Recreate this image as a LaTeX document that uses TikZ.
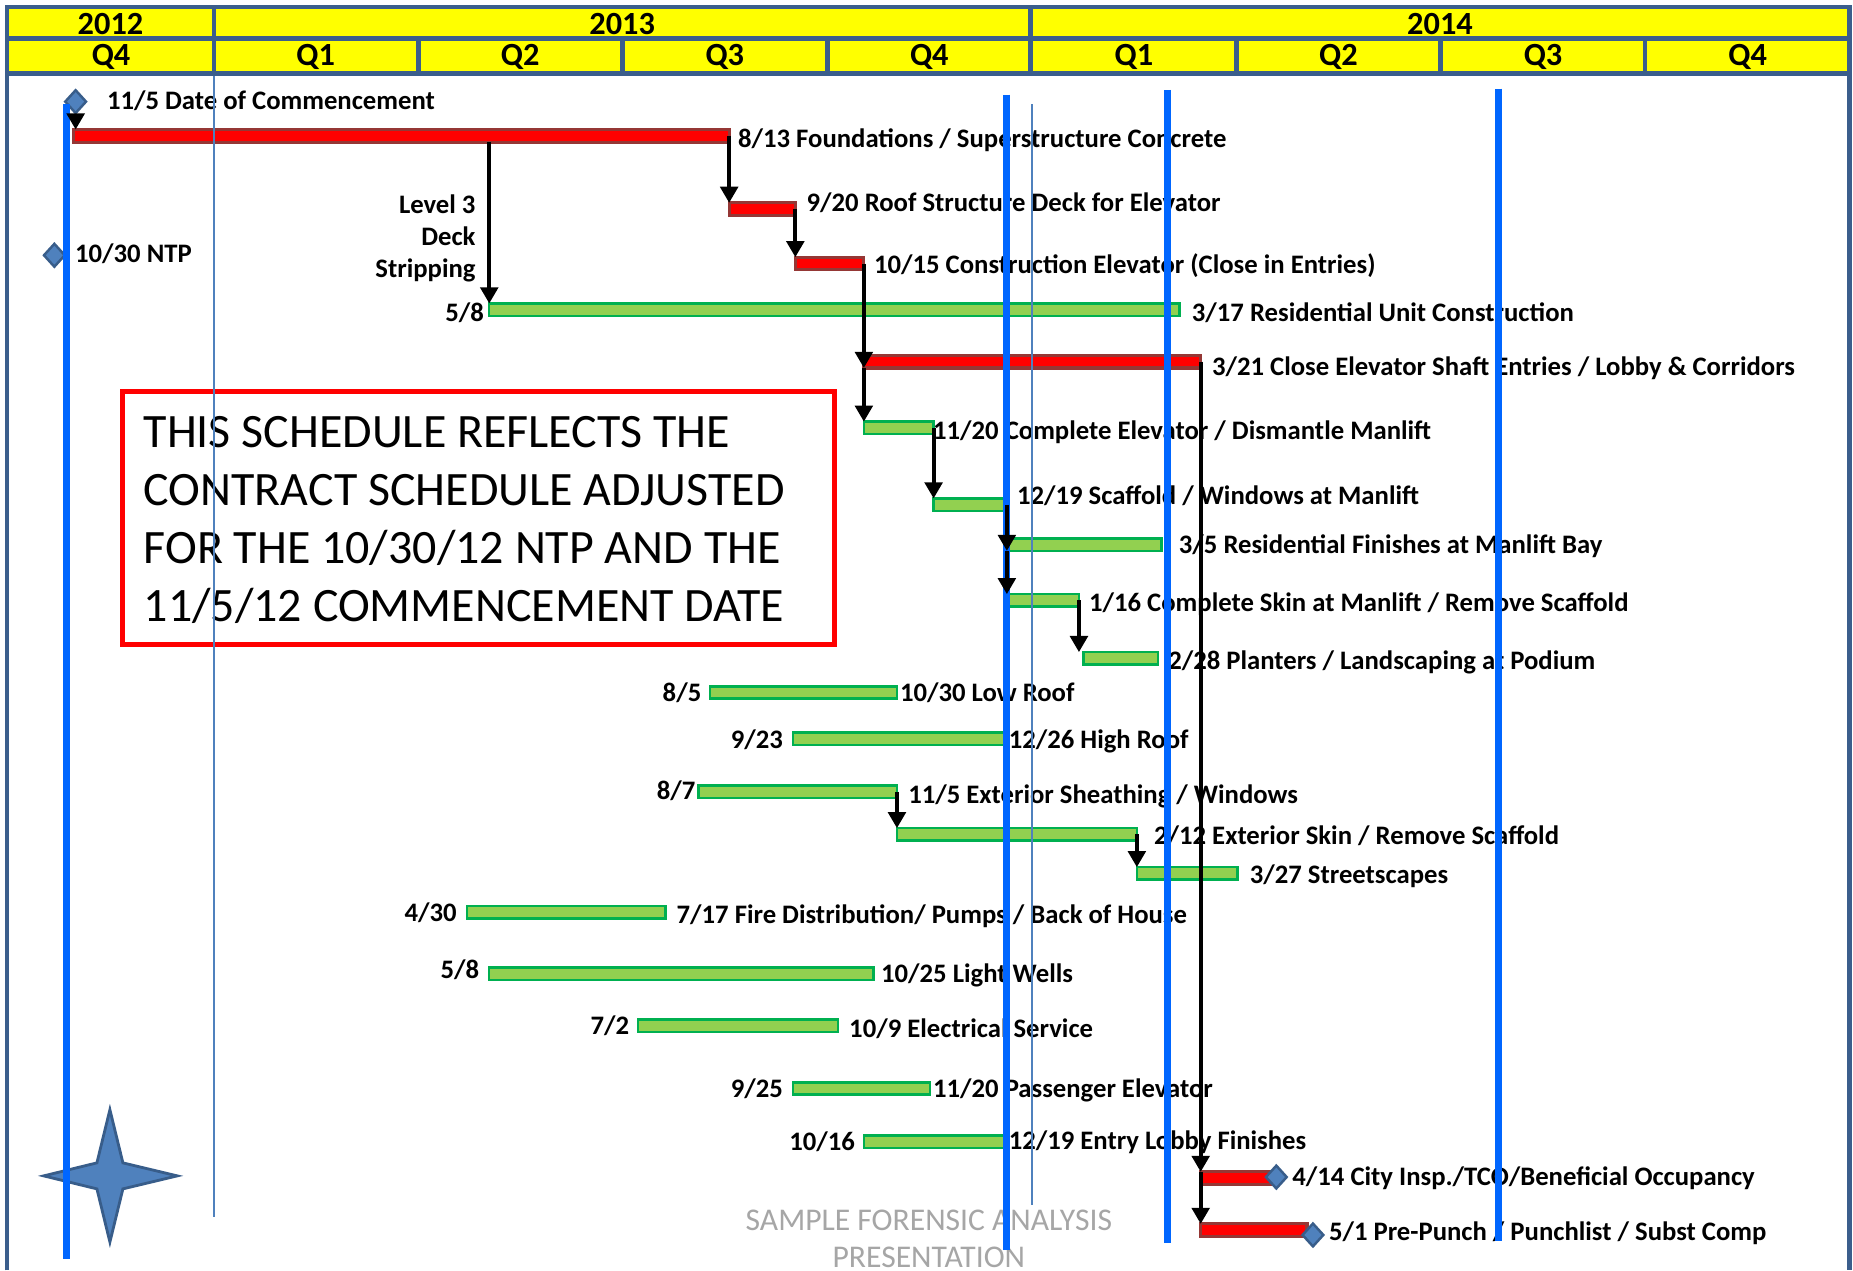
\documentclass[tikz,border=0pt]{standalone}
\usepackage{xcolor}
\usepackage{fontspec}
\setmainfont{Carlito}
\usetikzlibrary{arrows.meta,shapes.geometric}

\definecolor{hdrline}{HTML}{3B5E8C}
\definecolor{hdrfill}{HTML}{FFFF00}
\definecolor{qtrblue}{HTML}{0066FF}
\definecolor{thinblue}{HTML}{4F81BD}
\definecolor{barred}{HTML}{FF0000}
\definecolor{barredline}{HTML}{953735}
\definecolor{bargreen}{HTML}{92D050}
\definecolor{bargreenline}{HTML}{00B050}
\definecolor{mstone}{HTML}{4F81BD}
\definecolor{mstoneline}{HTML}{385D8A}
\definecolor{wmgray}{HTML}{A6A6A6}

% bar: style, name, x start, x end, y
\newcommand{\ganttbar}[5]{\node[#1, minimum width={(#4-#3)*0.01182cm}] (#2) at (#3,#5) {};}

\tikzset{
  hdr/.style={draw=hdrline, line width=1.35pt},
  hdrtxt/.style={font=\bfseries\fontsize{9.2}{10}\selectfont, inner sep=0pt},
  txt/.style={font=\bfseries\fontsize{7.6}{9.1}\selectfont, inner sep=0pt},
  lbl/.style={txt, anchor=west, text height=4.9pt, text depth=0pt},
  datel/.style={txt, anchor=east, text height=4.9pt, text depth=0pt},
  bar/.style={rectangle, anchor=west, inner sep=0pt, outer sep=0pt},
  redbar/.style={bar, fill=barred, draw=barredline, line width=0.9pt, minimum height=3.6pt},
  greenbar/.style={bar, fill=bargreen, draw=bargreenline, line width=0.7pt, minimum height=3.5pt},
  mstone/.style={diamond, fill=mstone, draw=mstoneline, line width=0.7pt,
    minimum width=6.2pt, minimum height=6.8pt, inner sep=0pt},
  dep/.style={draw=black, line width=1.1pt, -{Triangle[length=4.6pt,width=5pt]}},
  qtr/.style={draw=qtrblue, line width=2pt},
  thinq/.style={draw=thinblue, line width=0.5pt}
}

\begin{document}
\begin{tikzpicture}[x=0.01182cm, y=-0.01182cm]
    \useasboundingbox (0,0) rectangle (1568,1075);
    \fill[white] (0,0) rectangle (1568,1075);

    % Draw the header
    \fill[hdrfill] (6,6) rectangle (1565,62);
    \draw[hdr] (6,1075) -- (6,6) -- (1565,6) -- (1565,1075);
    \draw[hdr] (6,32.5) -- (1565,32.5);
    \draw[hdr] (6,62) -- (1565,62);
    \draw[hdr] (181,6) -- (181,62);
    \draw[hdr] (872,6) -- (872,62);
    \foreach \x in {354,527,700,1046,1219,1392}
        \draw[hdr] (\x,32.5) -- (\x,62);
    \node[hdrtxt] (y2012) at (93.5,20.5) {2012};
    \node[hdrtxt] (y2013) at (526.5,20.5) {2013};
    \node[hdrtxt] (y2014) at (1218.5,20.5) {2014};
    \foreach \q [count=\i from 0] in {Q4,Q1,Q2,Q3,Q4,Q1,Q2,Q3,Q4}
        \node[hdrtxt] (q\i) at ({94+173.1*\i},48.5) {\q};

    % Critical path bars
    \ganttbar{redbar}{found}{62}{617}{115}
    \ganttbar{redbar}{roof}{617}{673}{177}
    \ganttbar{redbar}{constr}{673}{731}{223}
    \ganttbar{redbar}{close}{731}{1016}{306}
    \ganttbar{redbar}{city}{1016}{1076}{997}
    \ganttbar{redbar}{pre}{1016}{1106}{1041}

    % Other activity bars
    \ganttbar{greenbar}{res}{414}{998}{262}
    \ganttbar{greenbar}{compelev}{731}{790}{362}
    \ganttbar{greenbar}{scaf}{790}{852}{427}
    \ganttbar{greenbar}{resfin}{852}{983}{461}
    \ganttbar{greenbar}{skin}{852}{913}{508}
    \ganttbar{greenbar}{plant}{917}{980}{557}
    \ganttbar{greenbar}{lowroof}{601}{759}{586}
    \ganttbar{greenbar}{highroof}{671}{852}{625}
    \ganttbar{greenbar}{sheath}{591}{759}{670}
    \ganttbar{greenbar}{extskin}{759}{962}{706}
    \ganttbar{greenbar}{street}{962}{1047}{739}
    \ganttbar{greenbar}{fire}{395}{563}{772}
    \ganttbar{greenbar}{wells}{414}{739}{824}
    \ganttbar{greenbar}{elec}{540}{709}{868}
    \ganttbar{greenbar}{paselev}{671}{787}{921}
    \ganttbar{greenbar}{lobby}{731}{852}{966}

    % Milestones
    \node[mstone] (comm) at (64,86) {};
    \node[mstone] (ntp) at (46,216) {};
    \node[mstone] (cityms) at (1080,996) {};
    \node[mstone] (prems) at (1111,1045) {};

    % Labels
    \node[lbl] (commlbl) at (90,85.5) {11/5 Date of Commencement};
    \node[lbl] (ntplbl) at (63,214.5) {10/30 NTP};
    \node[lbl] (foundlbl) at (624,117.5) {8/13 Foundations / Superstructure Concrete};
    \node[txt, anchor=east, align=right] (deck) at (403,202) {Level 3\\Deck\\Stripping};
    \node[lbl] (rooflbl) at (682,171.5) {9/20 Roof Structure Deck for Elevator};
    \node[lbl] (constrlbl) at (739,224.5) {10/15 Construction Elevator (Close in Entries)};
    \node[datel] (resd) at (410,264.5) {5/8};
    \node[lbl] (reslbl) at (1008,264.5) {3/17 Residential Unit Construction};
    \node[lbl] (closelbl) at (1025,310.5) {3/21 Close Elevator Shaft Entries / Lobby \& Corridors};
    \node[lbl] (compelevlbl) at (789,364.5) {11/20 Complete Elevator / Dismantle Manlift};
    \node[lbl] (scaflbl) at (860,419.5) {12/19 Scaffold / Windows at Manlift};
    \node[lbl] (resfinlbl) at (997,461.5) {3/5 Residential Finishes at Manlift Bay};
    \node[lbl] (skinlbl) at (921,510.5) {1/16 Complete Skin at Manlift / Remove Scaffold};
    \node[lbl] (plantlbl) at (988,559.5) {2/28 Planters / Landscaping at Podium};
    \node[datel] (lowroofd) at (594,586.5) {8/5};
    \node[lbl] (lowrooflbl) at (761,586.5) {10/30 Low Roof};
    \node[datel] (highroofd) at (663,626.5) {9/23};
    \node[lbl] (highrooflbl) at (853,626.5) {12/26 High Roof};
    \node[datel] (sheathd) at (589,669.5) {8/7};
    \node[lbl] (sheathlbl) at (768,672.5) {11/5 Exterior Sheathing / Windows};
    \node[lbl] (extskinlbl) at (976,707.5) {2/12 Exterior Skin / Remove Scaffold};
    \node[lbl] (streetlbl) at (1057,740.5) {3/27 Streetscapes};
    \node[datel] (fired) at (387,772.5) {4/30};
    \node[lbl] (firelbl) at (572,774.5) {7/17 Fire Distribution/ Pumps / Back of House};
    \node[datel] (wellsd) at (406,820.5) {5/8};
    \node[lbl] (wellslbl) at (745,824.5) {10/25 Light Wells};
    \node[datel] (elecd) at (533,868.5) {7/2};
    \node[lbl] (eleclbl) at (718,870.5) {10/9 Electrical Service};
    \node[datel] (paselevd) at (663,921.5) {9/25};
    \node[lbl] (paselevlbl) at (789,921.5) {11/20 Passenger Elevator};
    \node[datel] (lobbyd) at (724,966.5) {10/16};
    \node[lbl] (lobbylbl) at (853,965.5) {12/19 Entry Lobby Finishes};
    \node[lbl] (citylbl) at (1093,995.5) {4/14 City Insp./TCO/Beneficial Occupancy};
    \node[lbl] (prelbl) at (1124,1042.5) {5/1 Pre-Punch / Punchlist / Subst Comp};

    % Note box and watermark
    \draw[barred, line width=1.4pt] (104,331) rectangle (706,545);
    \node[font=\fontsize{13.65}{16.5}\selectfont, inner sep=0pt, anchor=west, align=left]
        (note) at (121,440) {THIS SCHEDULE REFLECTS THE\\CONTRACT SCHEDULE ADJUSTED\\FOR THE 10/30/12 NTP AND THE\\11/5/12 COMMENCEMENT DATE};
    \node[font=\fontsize{9}{10.4}\selectfont, text=wmgray, inner sep=0pt, align=center]
        (wm) at (786,1048.5) {SAMPLE FORENSIC ANALYSIS\\PRESENTATION};

    % Star
    \draw[fill=mstone, draw=mstoneline, line width=0.8pt] (93,939) -- (104,984) -- (150,995)
        -- (104,1006) -- (93,1051) -- (82,1006) -- (37,995) -- (82,984) -- cycle;

    % Quarter markers
    \draw[thinq] (181,64) -- (181,1030);
    \draw[thinq] (873,88) -- (873,1020);
    \draw[qtr] (56,88) -- (56,1065);
    \draw[qtr] (852,80) -- (852,1058);
    \draw[qtr] (988,76) -- (988,1052);
    \draw[qtr] (1268,75) -- (1268,1050);

    % Dependencies
    \draw[dep] (comm.south) -- (comm.south |- found.north);
    \draw[dep] (found.south -| res.west) -- (res.north west);
    \draw[dep] (found.east) -- (roof.north west);
    \draw[dep] (roof.east) -- (constr.north west);
    \draw[dep] (constr.east) -- (close.south west);
    \draw[dep] (close.south west) -- (compelev.north west);
    \draw[dep] (compelev.east) -- (scaf.north west);
    \draw[dep] (scaf.east) -- (resfin.south west);
    \draw[dep] (resfin.south west) -- (skin.north west);
    \draw[dep] (skin.east) -- (skin.east |- plant.north);
    \draw[dep] (sheath.east) -- (extskin.north west);
    \draw[dep] (extskin.east) -- (street.north west);
    \draw[dep] (close.east) -- (city.north west);
    \draw[dep] (city.north west) -- (pre.north west);
\end{tikzpicture}
\end{document}
